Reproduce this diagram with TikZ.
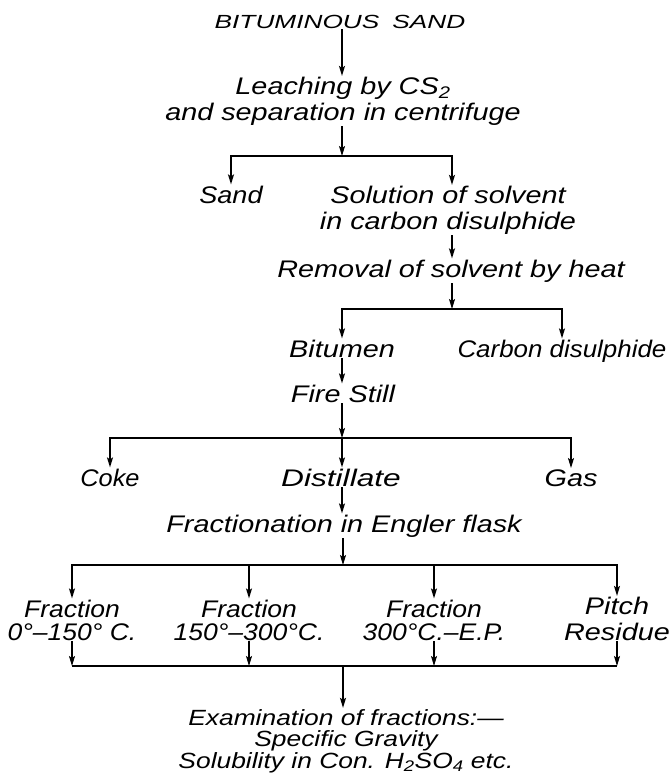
\documentclass[tikz,border=0pt]{standalone}
\usepackage{fontspec}
\usepackage{graphicx}
\setmainfont{Liberation Sans}[FakeStretch=1.2]
\usetikzlibrary{arrows.meta}
\begin{document}
\begin{tikzpicture}[x=1pt,y=-1pt,
  lbl/.style={font=\fontsize{24}{25.5}\selectfont\itshape, inner sep=1pt, align=center, anchor=base},
  lblsmall/.style={font=\fontsize{22}{21.5}\selectfont\itshape, inner sep=1pt, align=center, anchor=base},
  lbltitle/.style={font=\fontsize{19}{20}\selectfont\itshape, inner sep=1pt, anchor=base},
  arr/.style={draw, line width=1.4pt, -{Stealth[length=10pt,width=6pt,inset=2pt]}},
  ln/.style={draw, line width=1.4pt}]
\useasboundingbox (0,0) rectangle (671,780);

% column and junction coordinates
\coordinate (trunk) at (342,0);
\coordinate (rc) at (452,0);
\coordinate (j1) at (342,156);
\coordinate (j2) at (452,309);
\coordinate (j3) at (342,438);
\coordinate (j4) at (343,565);
\coordinate (j5) at (343,666);

% texts (multi-line nodes are placed by the baseline of their last line)
\node[lbltitle] (bs) at (340,28) {\scalebox{1.15}[1]{BITUMINOUS\hspace{0.6em}SAND}};
\node[lbl] (leach) at (343,120) {Leaching by CS\textsubscript{2}\\and separation in centrifuge};
\node[lbl] (sand) at (231,203) {\scalebox{0.94}[1]{Sand}};
\node[lbl] (sol) at (448,229) {Solution of solvent\\in carbon disulphide};
\node[lbl] (rem) at (451,277) {Removal of solvent by heat};
\node[lbl] (bit) at (342,357) {Bitumen};
\node[lbl] (cs2) at (562,357) {\scalebox{0.9}[1]{Carbon disulphide}};
\node[lbl] (fire) at (343,402) {Fire Still};
\node[lbl] (coke) at (110,486) {\scalebox{0.88}[1]{Coke}};
\node[lbl] (dist) at (341,486) {\scalebox{1.1}[1]{Distillate}};
\node[lbl] (gas) at (571,486) {Gas};
\node[lbl] (frac) at (344,532) {Fractionation in Engler flask};
\node[lbl] (f1) at (72,640) {\scalebox{0.92}[1]{\shortstack{Fraction\\[3pt]0°–150° C.}}};
\node[lbl] (f2) at (249,640) {\scalebox{0.92}[1]{\shortstack{Fraction\\[3pt]150°–300°C.}}};
\node[lbl] (f3) at (434,640) {\scalebox{0.92}[1]{\shortstack{Fraction\\[3pt]300°C.–E.P.}}};
\node[lbl] (f4) at (617,640) {Pitch\\Residue};
\node[lblsmall] (exam) at (346,768) {Examination of fractions:—\\Specific Gravity\\Solubility in Con. H\textsubscript{2}SO\textsubscript{4} etc.};

% connectors
\draw[arr] (bs.south -| trunk) -- (leach.north -| trunk);
\draw[arr] (leach.south -| trunk) -- (j1);
\draw[arr] (j1) -| (sand.north);
\draw[arr] (j1) -| (sol.north -| rc);
\draw[arr] (sol.south -| rc) -- (rem.north -| rc);
\draw[arr] (rem.south -| rc) -- (j2);
\draw[arr] (j2) -| (bit.north);
\draw[arr] (j2) -| (cs2.north);
\draw[arr] (bit.south) -- (bit.south |- fire.north);
\draw[arr] (fire.south -| trunk) -- (j3);
\draw[arr] (j3) -| (coke.north);
\draw[arr] (j3) -| (gas.north);
\draw[arr] (j3) -- (dist.north -| j3);
\draw[arr] (dist.south -| trunk) -- (frac.north -| trunk);
\draw[arr] (frac.south -| j4) -- (j4);
\draw[arr] (j4) -| (f1.north);
\draw[arr] (j4) -| (f2.north);
\draw[arr] (j4) -| (f3.north);
\draw[arr] (j4) -| (f4.north);
\draw[arr] (f1.south) -- (f1.south |- j5);
\draw[arr] (f2.south) -- (f2.south |- j5);
\draw[arr] (f3.south) -- (f3.south |- j5);
\draw[arr] (f4.south) -- (f4.south |- j5);
\draw[ln] (f1.south |- j5) -- (f4.south |- j5);
\draw[arr] (j5) -- (exam.north -| j5);
\end{tikzpicture}
\end{document}
